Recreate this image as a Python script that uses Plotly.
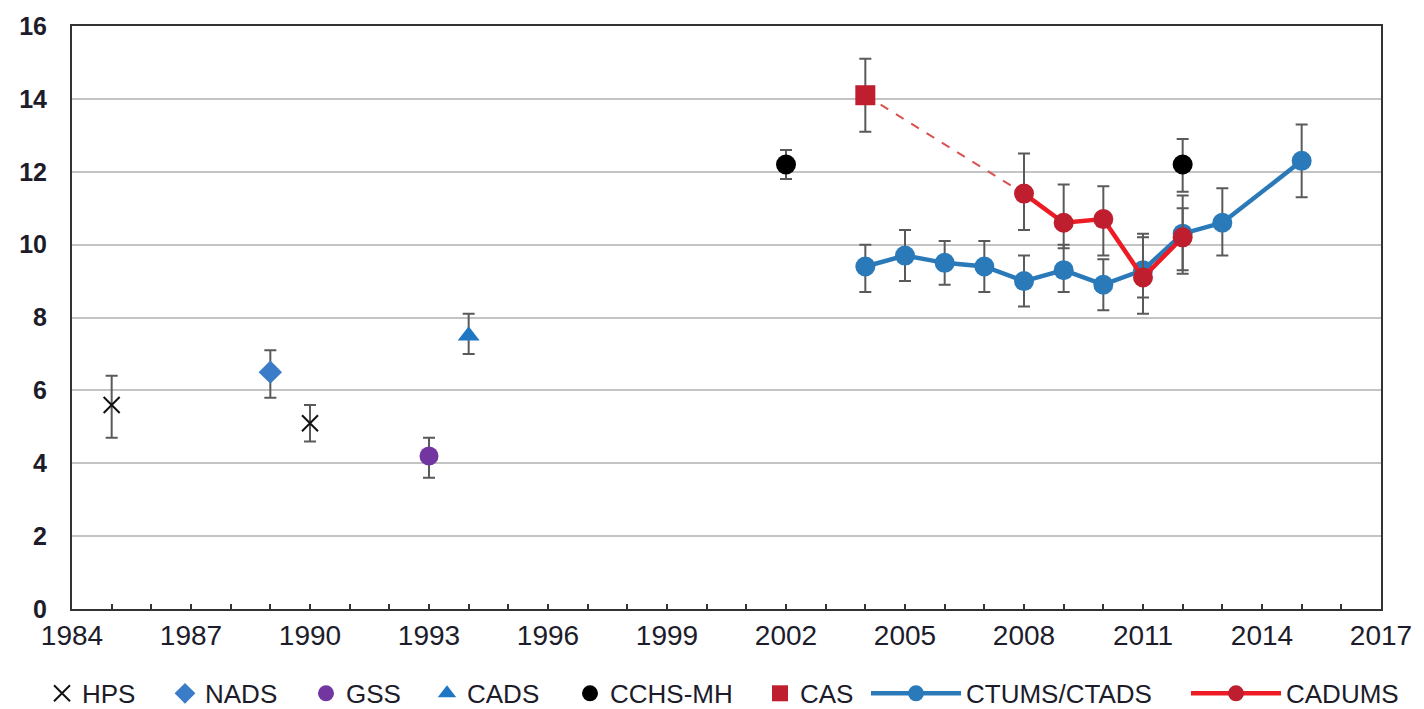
import plotly.graph_objects as go

# Survey estimates (%) with lower / upper confidence limits
hps_years = [1985, 1990]
hps_vals = [5.6, 5.1]
hps_lo = [4.7, 4.6]
hps_hi = [6.4, 5.6]

nads_years = [1989]
nads_vals = [6.5]
nads_lo = [5.8]
nads_hi = [7.1]

gss_years = [1993]
gss_vals = [4.2]
gss_lo = [3.6]
gss_hi = [4.7]

cads_years = [1994]
cads_vals = [7.5]
cads_lo = [7.0]
cads_hi = [8.1]

cchs_years = [2002, 2012]
cchs_vals = [12.2, 12.2]
cchs_lo = [11.8, 11.45]
cchs_hi = [12.6, 12.9]

cas_years = [2004]
cas_vals = [14.1]
cas_lo = [13.1]
cas_hi = [15.1]

ctums_years = [2004, 2005, 2006, 2007, 2008, 2009, 2010, 2011, 2012, 2013, 2015]
ctums_vals = [9.4, 9.7, 9.5, 9.4, 9.0, 9.3, 8.9, 9.3, 10.3, 10.6, 12.3]
ctums_lo = [8.7, 9.0, 8.9, 8.7, 8.3, 8.7, 8.2, 8.55, 9.3, 9.7, 11.3]
ctums_hi = [10.0, 10.4, 10.1, 10.1, 9.7, 10.0, 9.6, 10.3, 11.0, 11.55, 13.3]

cadums_years = [2008, 2009, 2010, 2011, 2012]
cadums_vals = [11.4, 10.6, 10.7, 9.1, 10.2]
cadums_lo = [10.4, 9.9, 9.7, 8.1, 9.2]
cadums_hi = [12.5, 11.65, 11.6, 10.2, 11.35]

ERR_COLOR = "#5a5a5a"
TEXT_COLOR = "#1c1c2a"
FONT = "Liberation Sans, Arial, sans-serif"


def err(vals, lo, hi):
    return dict(
        type="data",
        symmetric=False,
        array=[h - v for v, h in zip(vals, hi)],
        arrayminus=[v - l for v, l in zip(vals, lo)],
        color=ERR_COLOR,
        thickness=2,
        width=6,
    )


fig = go.Figure()

# Dashed link between CAS 2004 and the first CADUMS estimate
fig.add_trace(go.Scatter(
    x=[cas_years[0], cadums_years[0]], y=[cas_vals[0], cadums_vals[0]],
    mode="lines", line=dict(color="#d9534f", width=2, dash="dash"),
    showlegend=False, hoverinfo="skip"))

fig.add_trace(go.Scatter(
    x=hps_years, y=hps_vals, name="HPS", mode="markers", legend="legend",
    marker=dict(symbol="x-thin-open", size=16, color="#111111",
                line=dict(width=2, color="#111111")),
    error_y=err(hps_vals, hps_lo, hps_hi)))

fig.add_trace(go.Scatter(
    x=nads_years, y=nads_vals, name="NADS", mode="markers", legend="legend2",
    marker=dict(symbol="diamond", size=18, color="#3b7cc8"),
    error_y=err(nads_vals, nads_lo, nads_hi)))

fig.add_trace(go.Scatter(
    x=gss_years, y=gss_vals, name="GSS", mode="markers", legend="legend3",
    marker=dict(symbol="circle", size=19, color="#7236a0"),
    error_y=err(gss_vals, gss_lo, gss_hi)))

fig.add_trace(go.Scatter(
    x=cads_years, y=cads_vals, name="CADS", mode="markers", legend="legend4",
    marker=dict(symbol="triangle-up", size=19, color="#1f77c4"),
    error_y=err(cads_vals, cads_lo, cads_hi)))

fig.add_trace(go.Scatter(
    x=cchs_years, y=cchs_vals, name="CCHS-MH", mode="markers", legend="legend5",
    marker=dict(symbol="circle", size=20, color="#000000"),
    error_y=err(cchs_vals, cchs_lo, cchs_hi)))

fig.add_trace(go.Scatter(
    x=cas_years, y=cas_vals, name="CAS", mode="markers", legend="legend6",
    marker=dict(symbol="square", size=20, color="#be1e2d"),
    error_y=err(cas_vals, cas_lo, cas_hi)))

fig.add_trace(go.Scatter(
    x=ctums_years, y=ctums_vals, name="CTUMS/CTADS", mode="lines+markers",
    legend="legend7",
    line=dict(color="#2a7aba", width=4.5),
    marker=dict(symbol="circle", size=20, color="#2a7aba"),
    error_y=err(ctums_vals, ctums_lo, ctums_hi)))

fig.add_trace(go.Scatter(
    x=cadums_years, y=cadums_vals, name="CADUMS", mode="lines+markers",
    legend="legend8",
    line=dict(color="#ed1c24", width=4.5),
    marker=dict(symbol="circle", size=20, color="#be1e2d"),
    error_y=err(cadums_vals, cadums_lo, cadums_hi)))

# One single-entry legend per series, laid out along the bottom edge
legend_left_px = [42, 165, 306, 427, 570, 760, 866, 1186]
legend_item_w = [30, 30, 30, 30, 30, 30, 90, 90]


def legend_box(left_px, item_w):
    return dict(
        orientation="h", xref="container", yref="container",
        x=left_px / 1424, xanchor="left", y=0.022, yanchor="middle",
        font=dict(family=FONT, size=26, color=TEXT_COLOR),
        itemwidth=item_w, bgcolor="rgba(0,0,0,0)", borderwidth=0,
    )


legend_layout = {}
for i, (lx, iw) in enumerate(zip(legend_left_px, legend_item_w)):
    key = "legend" if i == 0 else f"legend{i + 1}"
    legend_layout[key] = legend_box(lx, iw)

fig.update_layout(
    width=1424, height=709,
    margin=dict(l=72, r=37, t=22, b=100),
    paper_bgcolor="white", plot_bgcolor="white",
    font=dict(family=FONT, color=TEXT_COLOR),
    showlegend=True,
    **legend_layout,
)

fig.update_xaxes(
    range=[1984, 2017], tick0=1984, dtick=3,
    ticks="inside", ticklen=5, tickwidth=2, tickcolor="#333333",
    minor=dict(dtick=1, ticks="inside", ticklen=5, tickwidth=2, tickcolor="#333333"),
    showline=True, linecolor="#333333", linewidth=2, mirror=True,
    showgrid=False, zeroline=False,
    tickfont=dict(size=28, family=FONT),
)

fig.update_yaxes(
    range=[0, 16], dtick=2, tick0=0,
    showline=True, linecolor="#333333", linewidth=2, mirror=True,
    showgrid=True, gridcolor="#c4c4c4", gridwidth=1.5,
    zeroline=False, ticks="", ticklabelstandoff=18,
    tickfont=dict(size=25, family=FONT, weight="bold"),
)

fig.write_html("out.html")
